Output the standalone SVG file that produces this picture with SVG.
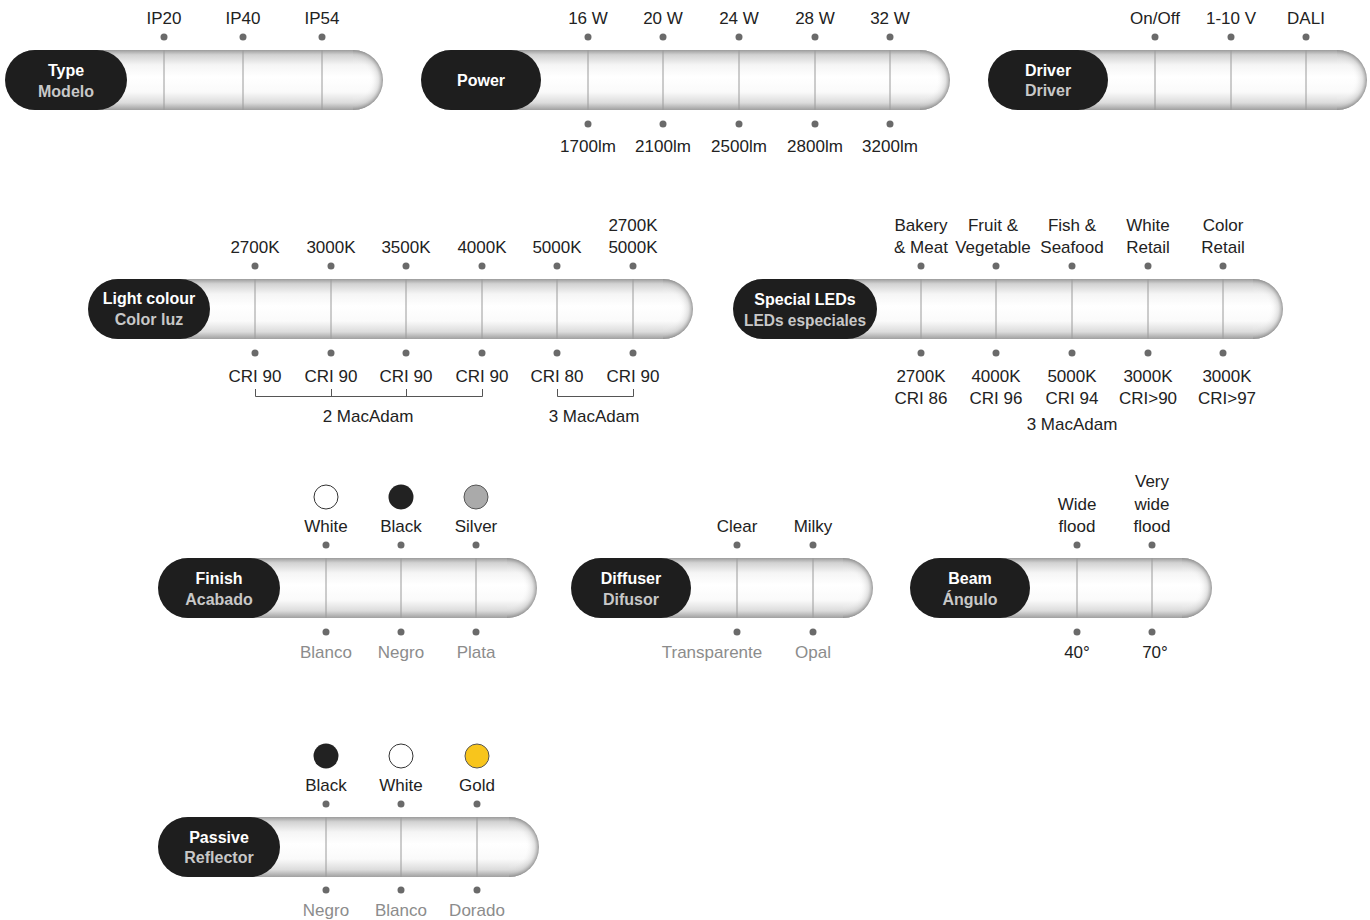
<svg xmlns="http://www.w3.org/2000/svg" xmlns:xlink="http://www.w3.org/1999/xlink" width="1370" height="920" viewBox="0 0 1370 920">
<style>
.tube{fill:url(#tubeG)}
.cap{fill:url(#capG)}
.pill{fill:#1e1e1e}
.div{stroke:#9a9a9a;stroke-width:1}
.dot{fill:#6a6a6a}
.lbl{font-family:"Liberation Sans",Arial,sans-serif;font-size:17px;fill:#222;text-anchor:middle}
.es{fill:#8c8c8c}
.t1{font-family:"Liberation Sans",Arial,sans-serif;font-size:16px;font-weight:bold;fill:#fff;text-anchor:middle}
.t2{font-family:"Liberation Sans",Arial,sans-serif;font-size:16px;font-weight:bold;fill:#c8c8c8;text-anchor:middle}
.br{fill:none;stroke:#555;stroke-width:1}
</style>
<defs>
<linearGradient id="tubeG" x1="0" y1="0" x2="0" y2="1">
<stop offset="0" stop-color="#9c9c9c"/>
<stop offset="0.08" stop-color="#d2d2d2"/>
<stop offset="0.25" stop-color="#f5f5f5"/>
<stop offset="0.45" stop-color="#ffffff"/>
<stop offset="0.7" stop-color="#fafafa"/>
<stop offset="0.88" stop-color="#dcdcdc"/>
<stop offset="1" stop-color="#a0a0a0"/>
</linearGradient>
<radialGradient id="capG" gradientUnits="userSpaceOnUse" cx="0" cy="0" r="30">
<stop offset="0" stop-color="#ffffff" stop-opacity="0"/>
<stop offset="0.55" stop-color="#ffffff" stop-opacity="0"/>
<stop offset="0.85" stop-color="#c8c8c8" stop-opacity="0.5"/>
<stop offset="1" stop-color="#8e8e8e" stop-opacity="0.9"/>
</radialGradient>
<path id="capS" class="cap" d="M0,-30 A30,30 0 0 1 0,30 Z"/>
</defs>
<rect width="1370" height="920" fill="#fff"/>

<g id="type">
<rect class="tube" x="5" y="50" width="378" height="60" rx="30"/>
<use xlink:href="#capS" x="353" y="80"/>
<rect class="pill" x="5" y="50" width="122" height="60" rx="30"/>
<text class="t1" x="66" y="76">Type</text>
<text class="t2" x="66" y="97">Modelo</text>
<line class="div" x1="164" y1="50" x2="164" y2="110"/>
<line class="div" x1="243" y1="50" x2="243" y2="110"/>
<line class="div" x1="322" y1="50" x2="322" y2="110"/>
<circle class="dot" cx="164" cy="37" r="3.5"/><circle class="dot" cx="243" cy="37" r="3.5"/><circle class="dot" cx="322" cy="37" r="3.5"/>
<text class="lbl" x="164" y="24">IP20</text>
<text class="lbl" x="243" y="24">IP40</text>
<text class="lbl" x="322" y="24">IP54</text>
</g>

<g id="power">
<rect class="tube" x="421" y="50" width="529" height="60" rx="30"/>
<use xlink:href="#capS" x="920" y="80"/>
<rect class="pill" x="421" y="50" width="120" height="60" rx="30"/>
<text class="t1" x="481" y="86">Power</text>
<line class="div" x1="588" y1="50" x2="588" y2="110"/>
<line class="div" x1="663" y1="50" x2="663" y2="110"/>
<line class="div" x1="739" y1="50" x2="739" y2="110"/>
<line class="div" x1="815" y1="50" x2="815" y2="110"/>
<line class="div" x1="890" y1="50" x2="890" y2="110"/>
<circle class="dot" cx="588" cy="37" r="3.5"/><circle class="dot" cx="663" cy="37" r="3.5"/><circle class="dot" cx="739" cy="37" r="3.5"/><circle class="dot" cx="815" cy="37" r="3.5"/><circle class="dot" cx="890" cy="37" r="3.5"/>
<circle class="dot" cx="588" cy="124" r="3.5"/><circle class="dot" cx="663" cy="124" r="3.5"/><circle class="dot" cx="739" cy="124" r="3.5"/><circle class="dot" cx="815" cy="124" r="3.5"/><circle class="dot" cx="890" cy="124" r="3.5"/>
<text class="lbl" x="588" y="24">16 W</text>
<text class="lbl" x="663" y="24">20 W</text>
<text class="lbl" x="739" y="24">24 W</text>
<text class="lbl" x="815" y="24">28 W</text>
<text class="lbl" x="890" y="24">32 W</text>
<text class="lbl" x="588" y="152">1700lm</text>
<text class="lbl" x="663" y="152">2100lm</text>
<text class="lbl" x="739" y="152">2500lm</text>
<text class="lbl" x="815" y="152">2800lm</text>
<text class="lbl" x="890" y="152">3200lm</text>
</g>

<g id="driver">
<rect class="tube" x="988" y="50" width="379" height="60" rx="30"/>
<use xlink:href="#capS" x="1337" y="80"/>
<rect class="pill" x="988" y="50" width="120" height="60" rx="30"/>
<text class="t1" x="1048" y="76">Driver</text>
<text class="t2" x="1048" y="96">Driver</text>
<line class="div" x1="1155" y1="50" x2="1155" y2="110"/>
<line class="div" x1="1231" y1="50" x2="1231" y2="110"/>
<line class="div" x1="1306" y1="50" x2="1306" y2="110"/>
<circle class="dot" cx="1155" cy="37" r="3.5"/><circle class="dot" cx="1231" cy="37" r="3.5"/><circle class="dot" cx="1306" cy="37" r="3.5"/>
<text class="lbl" x="1155" y="24">On/Off</text>
<text class="lbl" x="1231" y="24">1-10 V</text>
<text class="lbl" x="1306" y="24">DALI</text>
</g>

<g id="light-colour">
<rect class="tube" x="88" y="279" width="605" height="60" rx="30"/>
<use xlink:href="#capS" x="663" y="309"/>
<rect class="pill" x="88" y="279" width="122" height="60" rx="30"/>
<text class="t1" x="149" y="304">Light colour</text>
<text class="t2" x="149" y="325">Color luz</text>
<line class="div" x1="255" y1="279" x2="255" y2="339"/>
<line class="div" x1="331" y1="279" x2="331" y2="339"/>
<line class="div" x1="406" y1="279" x2="406" y2="339"/>
<line class="div" x1="482" y1="279" x2="482" y2="339"/>
<line class="div" x1="557" y1="279" x2="557" y2="339"/>
<line class="div" x1="633" y1="279" x2="633" y2="339"/>
<circle class="dot" cx="255" cy="266" r="3.5"/><circle class="dot" cx="331" cy="266" r="3.5"/><circle class="dot" cx="406" cy="266" r="3.5"/><circle class="dot" cx="482" cy="266" r="3.5"/><circle class="dot" cx="557" cy="266" r="3.5"/><circle class="dot" cx="633" cy="266" r="3.5"/>
<circle class="dot" cx="255" cy="353" r="3.5"/><circle class="dot" cx="331" cy="353" r="3.5"/><circle class="dot" cx="406" cy="353" r="3.5"/><circle class="dot" cx="482" cy="353" r="3.5"/><circle class="dot" cx="557" cy="353" r="3.5"/><circle class="dot" cx="633" cy="353" r="3.5"/>
<text class="lbl" x="255" y="253">2700K</text>
<text class="lbl" x="331" y="253">3000K</text>
<text class="lbl" x="406" y="253">3500K</text>
<text class="lbl" x="482" y="253">4000K</text>
<text class="lbl" x="557" y="253">5000K</text>
<text class="lbl" x="633" y="231">2700K</text>
<text class="lbl" x="633" y="253">5000K</text>
<text class="lbl" x="255" y="382">CRI 90</text>
<text class="lbl" x="331" y="382">CRI 90</text>
<text class="lbl" x="406" y="382">CRI 90</text>
<text class="lbl" x="482" y="382">CRI 90</text>
<text class="lbl" x="557" y="382">CRI 80</text>
<text class="lbl" x="633" y="382">CRI 90</text>
<text class="lbl" x="368" y="422">2 MacAdam</text>
<text class="lbl" x="594" y="422">3 MacAdam</text>
</g>

<g id="special-leds">
<rect class="tube" x="733" y="279" width="550" height="60" rx="30"/>
<use xlink:href="#capS" x="1253" y="309"/>
<rect class="pill" x="733" y="279" width="144" height="60" rx="30"/>
<text class="t1" x="805" y="305">Special LEDs</text>
<text class="t2" x="805" y="326" textLength="122" lengthAdjust="spacingAndGlyphs">LEDs especiales</text>
<line class="div" x1="921" y1="279" x2="921" y2="339"/>
<line class="div" x1="996" y1="279" x2="996" y2="339"/>
<line class="div" x1="1072" y1="279" x2="1072" y2="339"/>
<line class="div" x1="1148" y1="279" x2="1148" y2="339"/>
<line class="div" x1="1223" y1="279" x2="1223" y2="339"/>
<circle class="dot" cx="921" cy="266" r="3.5"/><circle class="dot" cx="996" cy="266" r="3.5"/><circle class="dot" cx="1072" cy="266" r="3.5"/><circle class="dot" cx="1148" cy="266" r="3.5"/><circle class="dot" cx="1223" cy="266" r="3.5"/>
<circle class="dot" cx="921" cy="353" r="3.5"/><circle class="dot" cx="996" cy="353" r="3.5"/><circle class="dot" cx="1072" cy="353" r="3.5"/><circle class="dot" cx="1148" cy="353" r="3.5"/><circle class="dot" cx="1223" cy="353" r="3.5"/>
<text class="lbl" x="921" y="231">Bakery</text><text class="lbl" x="921" y="253">&amp; Meat</text>
<text class="lbl" x="993" y="231">Fruit &amp;</text><text class="lbl" x="993" y="253">Vegetable</text>
<text class="lbl" x="1072" y="231">Fish &amp;</text><text class="lbl" x="1072" y="253">Seafood</text>
<text class="lbl" x="1148" y="231">White</text><text class="lbl" x="1148" y="253">Retail</text>
<text class="lbl" x="1223" y="231">Color</text><text class="lbl" x="1223" y="253">Retail</text>
<text class="lbl" x="921" y="382">2700K</text><text class="lbl" x="921" y="404">CRI 86</text>
<text class="lbl" x="996" y="382">4000K</text><text class="lbl" x="996" y="404">CRI 96</text>
<text class="lbl" x="1072" y="382">5000K</text><text class="lbl" x="1072" y="404">CRI 94</text>
<text class="lbl" x="1148" y="382">3000K</text><text class="lbl" x="1148" y="404">CRI&gt;90</text>
<text class="lbl" x="1227" y="382">3000K</text><text class="lbl" x="1227" y="404">CRI&gt;97</text>
<text class="lbl" x="1072" y="430">3 MacAdam</text>
</g>

<g id="finish">
<rect class="tube" x="158" y="558" width="379" height="60" rx="30"/>
<use xlink:href="#capS" x="507" y="588"/>
<rect class="pill" x="158" y="558" width="122" height="60" rx="30"/>
<text class="t1" x="219" y="584">Finish</text>
<text class="t2" x="219" y="605">Acabado</text>
<line class="div" x1="326" y1="558" x2="326" y2="618"/>
<line class="div" x1="401" y1="558" x2="401" y2="618"/>
<line class="div" x1="476" y1="558" x2="476" y2="618"/>
<circle cx="326" cy="497" r="12" fill="#fff" stroke="#333" stroke-width="1"/>
<circle cx="401" cy="497" r="12.5" fill="#222"/>
<circle cx="476" cy="497" r="12" fill="#aaa" stroke="#555" stroke-width="1"/>
<circle class="dot" cx="326" cy="545" r="3.5"/><circle class="dot" cx="401" cy="545" r="3.5"/><circle class="dot" cx="476" cy="545" r="3.5"/>
<circle class="dot" cx="326" cy="632" r="3.5"/><circle class="dot" cx="401" cy="632" r="3.5"/><circle class="dot" cx="476" cy="632" r="3.5"/>
<text class="lbl" x="326" y="532">White</text>
<text class="lbl" x="401" y="532">Black</text>
<text class="lbl" x="476" y="532">Silver</text>
<text class="lbl es" x="326" y="658">Blanco</text>
<text class="lbl es" x="401" y="658">Negro</text>
<text class="lbl es" x="476" y="658">Plata</text>
</g>

<g id="diffuser">
<rect class="tube" x="571" y="558" width="302" height="60" rx="30"/>
<use xlink:href="#capS" x="843" y="588"/>
<rect class="pill" x="571" y="558" width="120" height="60" rx="30"/>
<text class="t1" x="631" y="584">Diffuser</text>
<text class="t2" x="631" y="605">Difusor</text>
<line class="div" x1="737" y1="558" x2="737" y2="618"/>
<line class="div" x1="813" y1="558" x2="813" y2="618"/>
<circle class="dot" cx="737" cy="545" r="3.5"/><circle class="dot" cx="813" cy="545" r="3.5"/>
<circle class="dot" cx="737" cy="632" r="3.5"/><circle class="dot" cx="813" cy="632" r="3.5"/>
<text class="lbl" x="737" y="532">Clear</text>
<text class="lbl" x="813" y="532">Milky</text>
<text class="lbl es" x="712" y="658">Transparente</text>
<text class="lbl es" x="813" y="658">Opal</text>
</g>

<g id="beam">
<rect class="tube" x="910" y="558" width="302" height="60" rx="30"/>
<use xlink:href="#capS" x="1182" y="588"/>
<rect class="pill" x="910" y="558" width="120" height="60" rx="30"/>
<text class="t1" x="970" y="584">Beam</text>
<text class="t2" x="970" y="605">Ángulo</text>
<line class="div" x1="1077" y1="558" x2="1077" y2="618"/>
<line class="div" x1="1152" y1="558" x2="1152" y2="618"/>
<circle class="dot" cx="1077" cy="545" r="3.5"/><circle class="dot" cx="1152" cy="545" r="3.5"/>
<circle class="dot" cx="1077" cy="632" r="3.5"/><circle class="dot" cx="1152" cy="632" r="3.5"/>
<text class="lbl" x="1077" y="510">Wide</text><text class="lbl" x="1077" y="532">flood</text>
<text class="lbl" x="1152" y="487">Very</text><text class="lbl" x="1152" y="510">wide</text><text class="lbl" x="1152" y="532">flood</text>
<text class="lbl" x="1077" y="658">40°</text>
<text class="lbl" x="1155" y="658">70°</text>
</g>

<g id="passive-reflector">
<rect class="tube" x="158" y="817" width="381" height="60" rx="30"/>
<use xlink:href="#capS" x="509" y="847"/>
<rect class="pill" x="158" y="817" width="122" height="60" rx="30"/>
<text class="t1" x="219" y="843">Passive</text>
<text class="t2" x="219" y="863">Reflector</text>
<line class="div" x1="326" y1="817" x2="326" y2="877"/>
<line class="div" x1="401" y1="817" x2="401" y2="877"/>
<line class="div" x1="477" y1="817" x2="477" y2="877"/>
<circle cx="326" cy="756" r="12.5" fill="#222"/>
<circle cx="401" cy="756" r="12" fill="#fff" stroke="#333" stroke-width="1"/>
<circle cx="477" cy="756" r="12" fill="#f8c51c" stroke="#555" stroke-width="1"/>
<circle class="dot" cx="326" cy="804" r="3.5"/><circle class="dot" cx="401" cy="804" r="3.5"/><circle class="dot" cx="477" cy="804" r="3.5"/>
<circle class="dot" cx="326" cy="890" r="3.5"/><circle class="dot" cx="401" cy="890" r="3.5"/><circle class="dot" cx="477" cy="890" r="3.5"/>
<text class="lbl" x="326" y="791">Black</text>
<text class="lbl" x="401" y="791">White</text>
<text class="lbl" x="477" y="791">Gold</text>
<text class="lbl es" x="326" y="916">Negro</text>
<text class="lbl es" x="401" y="916">Blanco</text>
<text class="lbl es" x="477" y="916">Dorado</text>
</g>

<g id="connectors">
<path class="br" d="M255.5 389 V396.5 H482.5 V389 M331.5 396.5 V389 M406.5 396.5 V389"/>
<path class="br" d="M557.5 389 V396.5 H633.5 V389"/>
</g>
</svg>
